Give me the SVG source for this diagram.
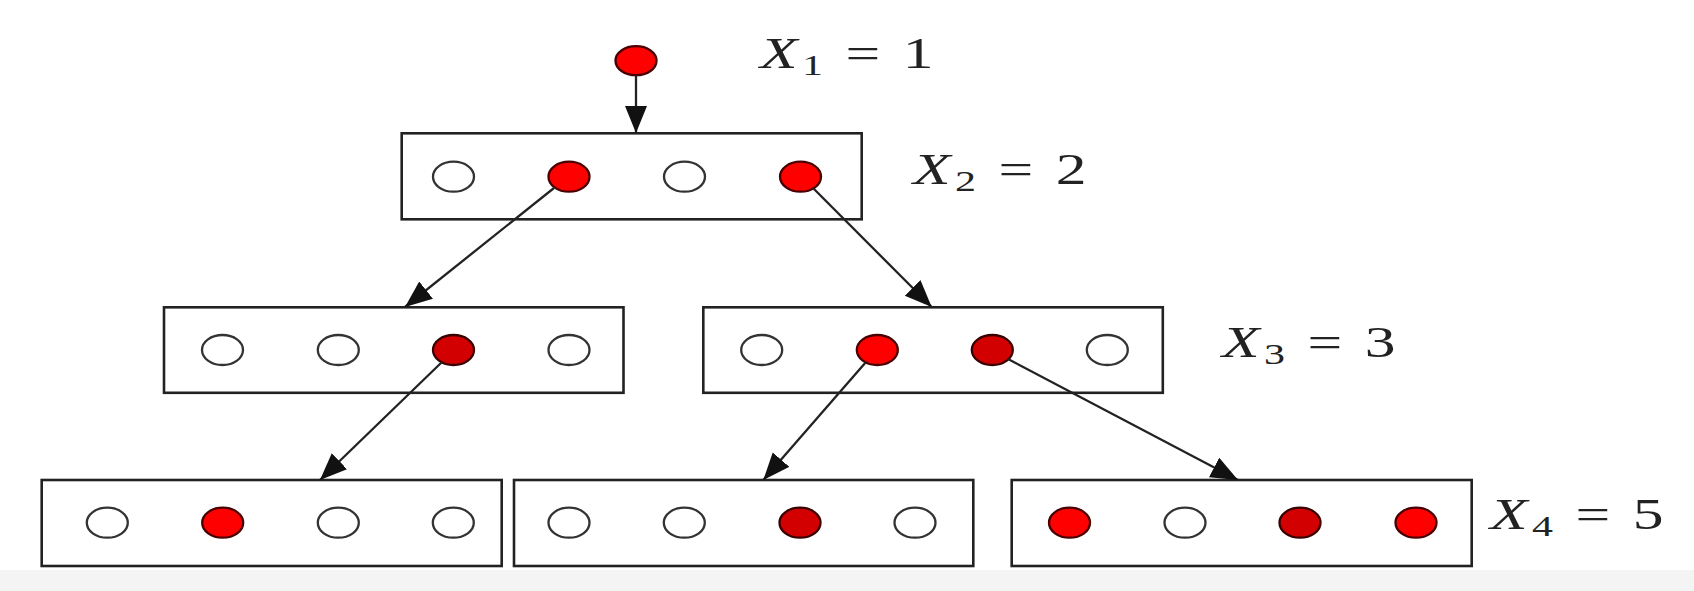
<svg xmlns="http://www.w3.org/2000/svg" width="1694" height="591" viewBox="0 0 1694 591">
<style>
.box{fill:#fff;stroke:#222;stroke-width:2.6}
.e{fill:#fff;stroke:#333;stroke-width:2.3}
.r{fill:#ff0000;stroke:#4a0000;stroke-width:2.3}
.d{fill:#d20000;stroke:#3a0000;stroke-width:2.3}
.cn{stroke:#222;stroke-width:2.3;fill:none;marker-end:url(#ah)}
.lbl{font-family:'Liberation Serif','DejaVu Serif',serif;font-size:44px;fill:#222}
.sub{font-size:30px}
.it{font-style:italic}
</style>
<defs>
<marker id="ah" markerUnits="userSpaceOnUse" markerWidth="30" markerHeight="26" refX="27" refY="11" orient="auto">
<path d="M0,0 L27,11 L0,22 Z" fill="#111"/>
</marker>
</defs>
<rect x="0" y="0" width="1694" height="591" fill="#fff"/>
<rect x="0" y="570" width="1694" height="21" fill="#f4f4f4"/>

<g id="n1">
<ellipse class="r" cx="636" cy="60.7" rx="20.5" ry="14.5"/>
</g>

<g id="n2">
<rect class="box" x="401.7" y="133.3" width="460" height="86"/>
<ellipse class="e" cx="453.5" cy="176.7" rx="20.5" ry="15"/>
<ellipse class="r" cx="569" cy="176.7" rx="20.5" ry="15"/>
<ellipse class="e" cx="684.5" cy="176.7" rx="20.5" ry="15"/>
<ellipse class="r" cx="800.5" cy="176.7" rx="20.5" ry="15"/>
</g>

<g id="n3a">
<rect class="box" x="164" y="307.3" width="459.5" height="85.5"/>
<ellipse class="e" cx="222.5" cy="350" rx="20.5" ry="15"/>
<ellipse class="e" cx="338.3" cy="350" rx="20.5" ry="15"/>
<ellipse class="d" cx="453.5" cy="350" rx="20.5" ry="15"/>
<ellipse class="e" cx="569" cy="350" rx="20.5" ry="15"/>
</g>

<g id="n3b">
<rect class="box" x="703.3" y="307.3" width="459.5" height="85.5"/>
<ellipse class="e" cx="761.7" cy="350" rx="20.5" ry="15"/>
<ellipse class="r" cx="877.3" cy="350" rx="20.5" ry="15"/>
<ellipse class="d" cx="992.3" cy="350" rx="20.5" ry="15"/>
<ellipse class="e" cx="1107.3" cy="350" rx="20.5" ry="15"/>
</g>

<g id="n4a">
<rect class="box" x="41.7" y="480" width="460" height="86"/>
<ellipse class="e" cx="107.3" cy="522.7" rx="20.5" ry="15"/>
<ellipse class="r" cx="222.7" cy="522.7" rx="20.5" ry="15"/>
<ellipse class="e" cx="338.3" cy="522.7" rx="20.5" ry="15"/>
<ellipse class="e" cx="453.3" cy="522.7" rx="20.5" ry="15"/>
</g>

<g id="n4b">
<rect class="box" x="514" y="480" width="459.3" height="86"/>
<ellipse class="e" cx="569" cy="522.7" rx="20.5" ry="15"/>
<ellipse class="e" cx="684.3" cy="522.7" rx="20.5" ry="15"/>
<ellipse class="d" cx="800" cy="522.7" rx="20.5" ry="15"/>
<ellipse class="e" cx="915" cy="522.7" rx="20.5" ry="15"/>
</g>

<g id="n4c">
<rect class="box" x="1011.7" y="480" width="460" height="86"/>
<ellipse class="r" cx="1069.5" cy="522.7" rx="20.5" ry="15"/>
<ellipse class="e" cx="1185" cy="522.7" rx="20.5" ry="15"/>
<ellipse class="d" cx="1300" cy="522.7" rx="20.5" ry="15"/>
<ellipse class="r" cx="1416" cy="522.7" rx="20.5" ry="15"/>
</g>

<g id="connectors">
<line class="cn" x1="636" y1="75.5" x2="636" y2="133"/>
<line class="cn" x1="554" y1="188" x2="405" y2="307"/>
<line class="cn" x1="813" y1="188" x2="931.7" y2="307"/>
<line class="cn" x1="442" y1="362" x2="320" y2="480"/>
<line class="cn" x1="866" y1="362" x2="763.3" y2="480"/>
<line class="cn" x1="1008" y1="359" x2="1238" y2="480"/>
</g>

<g id="labels">
<text class="lbl" font-family="Liberation Serif, serif" transform="translate(760,68.3) scale(1.4,1)"><tspan class="it">X</tspan><tspan class="sub" x="30" dy="7">1</tspan><tspan x="61" dy="-7">=</tspan><tspan x="102">1</tspan></text>
<text class="lbl" font-family="Liberation Serif, serif" transform="translate(913,184) scale(1.4,1)"><tspan class="it">X</tspan><tspan class="sub" x="30" dy="7">2</tspan><tspan x="61" dy="-7">=</tspan><tspan x="102">2</tspan></text>
<text class="lbl" font-family="Liberation Serif, serif" transform="translate(1222,356.7) scale(1.4,1)"><tspan class="it">X</tspan><tspan class="sub" x="30" dy="7">3</tspan><tspan x="61" dy="-7">=</tspan><tspan x="102">3</tspan></text>
<text class="lbl" font-family="Liberation Serif, serif" transform="translate(1490,529) scale(1.4,1)"><tspan class="it">X</tspan><tspan class="sub" x="30" dy="7">4</tspan><tspan x="61" dy="-7">=</tspan><tspan x="102">5</tspan></text>
</g>
</svg>
